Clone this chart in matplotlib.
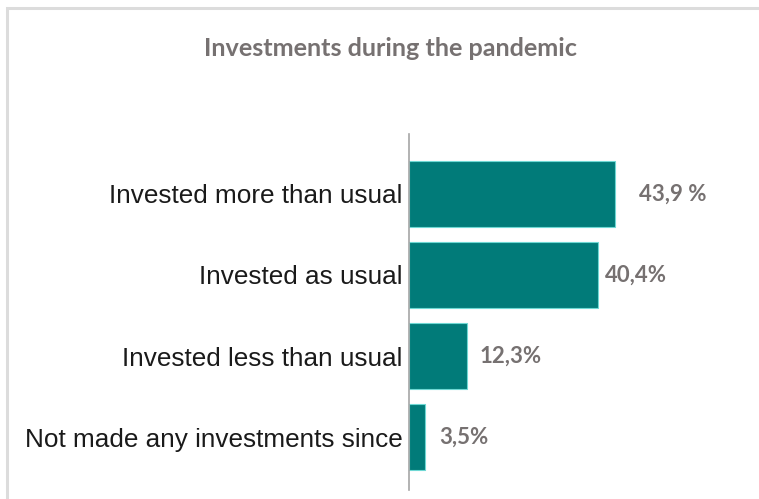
import matplotlib.pyplot as plt
from matplotlib.patches import Rectangle

categories = [
    "Invested more than usual",
    "Invested as usual",
    "Invested less than usual",
    "Not made any investments since",
]
values = [43.9, 40.4, 12.3, 3.5]
value_labels = ["43,9 %", "40,4%", "12,3%", "3,5%"]
label_pads = [17, 5, 9, 10]  # points between bar end and value text

W, H = 759, 499
fig = plt.figure(figsize=(W / 100, H / 100), dpi=100)
fig.patch.set_facecolor("white")

# light grey frame around the chart area
fig.add_artist(Rectangle((7 / W, -0.02), 1.1, (H - 8) / H + 0.02,
                         transform=fig.transFigure, fill=False,
                         edgecolor="#dcdcdc", linewidth=2.2))

left, right = 409, 759
top, bottom = 134, 490
ax = fig.add_axes([left / W, 1 - bottom / H, (right - left) / W, (bottom - top) / H])

px_per_unit = 4.69
ax.set_xlim(0, (right - left) / px_per_unit)
ax.set_ylim(3.65, -0.736)

ax.barh(range(len(categories)), values, height=0.81, color="#017b79",
        edgecolor="#6fd8d4", linewidth=0.8)

for i, (v, lab, pad) in enumerate(zip(values, value_labels, label_pads)):
    ax.annotate(lab, (v, i), xytext=(pad, 0), textcoords="offset points",
                ha="left", va="center", fontsize=16, fontweight="bold",
                color="#767171", family="Lato")

ax.set_yticks(range(len(categories)))
ax.set_yticklabels(categories, fontsize=18.8, family="Liberation Sans", color="#1a1a1a")
ax.tick_params(axis="y", length=0, pad=4.5)
ax.set_xticks([])
for s in ["top", "right", "bottom"]:
    ax.spines[s].set_visible(False)
ax.spines["left"].set_color("#a6a6a6")
ax.spines["left"].set_linewidth(1.2)

fig.text(390 / W, 1 - 48 / H, "Investments during the pandemic", ha="center",
         va="center", fontsize=18.2, fontweight="bold", color="#767171",
         family="Lato")

fig.savefig("out.png", dpi=100, facecolor="white")
